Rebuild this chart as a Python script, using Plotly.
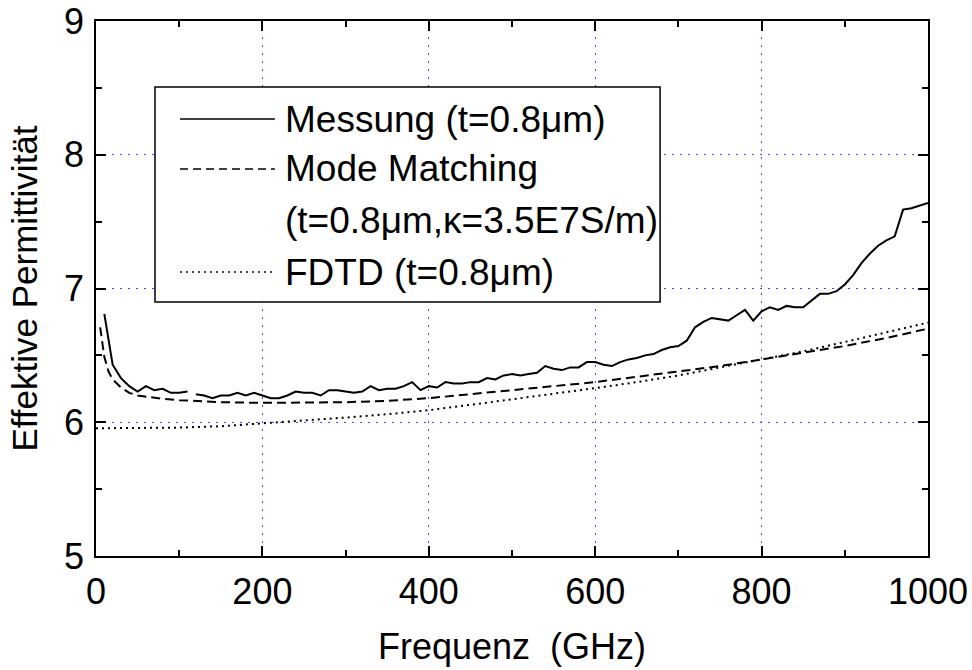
import plotly.graph_objects as go

# ---------------- data ----------------
freq_meas = [10, 20, 30, 40, 50, 60, 70, 80, 90, 100, 110, 115,
             120, 130, 140, 150, 160, 170, 180, 190, 200, 210, 220, 230, 240, 250,
             260, 270, 280, 290, 300, 310, 320, 330, 340, 350, 360, 370, 380, 390,
             400, 410, 420, 430, 440, 450, 460, 470, 480, 490, 500, 510, 520, 530,
             540, 550, 560, 570, 580, 590, 600, 610, 620, 630, 640, 650, 660, 670,
             680, 690, 700, 710, 720, 730, 740, 750, 760, 770, 780, 790, 800, 810,
             820, 830, 840, 850, 860, 870, 880, 890, 900, 910, 920, 930, 940, 950,
             960, 970, 980, 990, 1000]
eps_meas = [6.81, 6.43, 6.33, 6.27, 6.23, 6.27, 6.24, 6.25, 6.22, 6.22, 6.23, None,
            6.21, 6.20, 6.18, 6.20, 6.20, 6.22, 6.20, 6.22, 6.20, 6.18, 6.18, 6.20, 6.23, 6.22,
            6.22, 6.20, 6.24, 6.24, 6.23, 6.22, 6.23, 6.27, 6.24, 6.25, 6.25, 6.27, 6.30, 6.24,
            6.27, 6.26, 6.30, 6.29, 6.29, 6.30, 6.30, 6.33, 6.32, 6.35, 6.36, 6.35, 6.36, 6.37,
            6.42, 6.40, 6.39, 6.41, 6.41, 6.45, 6.45, 6.43, 6.42, 6.45, 6.47, 6.48, 6.50, 6.51,
            6.54, 6.56, 6.57, 6.61, 6.71, 6.75, 6.78, 6.77, 6.76, 6.80, 6.84, 6.76, 6.83, 6.86,
            6.84, 6.87, 6.86, 6.86, 6.91, 6.96, 6.96, 6.98, 7.03, 7.10, 7.19, 7.26, 7.32, 7.36,
            7.39, 7.59, 7.60, 7.62, 7.64]

freq_mm = [5, 10, 15, 20, 30, 40, 50, 60, 80, 100, 150, 200, 250, 300, 350, 400,
           450, 500, 550, 600, 650, 700, 750, 800, 850, 900, 950, 1000]
eps_mm = [6.71, 6.49, 6.38, 6.32, 6.26, 6.22, 6.20, 6.19, 6.175, 6.165, 6.15, 6.145,
          6.145, 6.15, 6.16, 6.18, 6.21, 6.24, 6.27, 6.30, 6.34, 6.38, 6.42, 6.47,
          6.52, 6.57, 6.63, 6.70]

freq_fdtd = [0, 50, 100, 150, 200, 250, 300, 350, 400, 450, 500, 550, 600, 650, 700,
             750, 800, 850, 900, 950, 1000]
eps_fdtd = [5.955, 5.955, 5.96, 5.97, 5.99, 6.01, 6.035, 6.06, 6.09, 6.13, 6.17, 6.21,
            6.255, 6.30, 6.35, 6.41, 6.47, 6.53, 6.60, 6.67, 6.745]

legend_labels = ["Messung (t=0.8\u03bcm)",
                 "Mode Matching",
                 "(t=0.8\u03bcm,\u03ba=3.5E7S/m)",
                 "FDTD (t=0.8\u03bcm)"]
x_ticks = [0, 200, 400, 600, 800, 1000]
y_ticks = [5, 6, 7, 8, 9]

FONT = "Arial, Liberation Sans, Helvetica, sans-serif"
GRID = "rgb(70,70,255)"

fig = go.Figure()
fig.add_trace(go.Scatter(x=freq_meas, y=eps_meas, mode="lines", connectgaps=False,
                         line=dict(color="black", width=2), name=legend_labels[0]))
fig.add_trace(go.Scatter(x=freq_mm, y=eps_mm, mode="lines",
                         line=dict(color="black", width=2, dash="9px,5px"), name="Mode Matching"))
fig.add_trace(go.Scatter(x=freq_fdtd, y=eps_fdtd, mode="lines",
                         line=dict(color="black", width=2, dash="2px,4px"), name=legend_labels[3]))

axis_common = dict(
    showline=True, linecolor="black", linewidth=1.5, mirror="ticks",
    ticks="inside", ticklen=10, tickwidth=1.5, tickcolor="black",
    showgrid=True, gridcolor=GRID, gridwidth=1.2, griddash="1.5px,6.5px",
    zeroline=False, automargin=False, ticklabeloverflow="allow",
    tickfont=dict(family=FONT, size=36, color="black"),
)

fig.update_xaxes(range=[0, 1000], tickvals=x_ticks, ticktext=[str(v) for v in x_ticks],
                 ticklabelstandoff=3,
                 minor=dict(dtick=100, tick0=0, ticks="inside", ticklen=6, tickwidth=1.5,
                            tickcolor="black", showgrid=False),
                 title=dict(text="Frequenz\u00a0 (GHz)", font=dict(family=FONT, size=36, color="black"),
                            standoff=23),
                 **axis_common)
fig.update_yaxes(range=[5, 9], tickvals=y_ticks, ticktext=[str(v) for v in y_ticks],
                 ticklabelstandoff=3,
                 minor=dict(dtick=0.5, tick0=5, ticks="inside", ticklen=6, tickwidth=1.5,
                            tickcolor="black", showgrid=False),
                 title=dict(text="Effektive Permittivit\u00e4t", font=dict(family=FONT, size=35, color="black"),
                            standoff=16),
                 **axis_common)

# ---- manual legend box (paper coordinates) ----
box = dict(x0=0.0709, x1=0.678, y0=0.4748, y1=0.8766)
fig.add_shape(type="rect", xref="paper", yref="paper", layer="above",
              line=dict(color="black", width=1.5), fillcolor="white", **box)
sample_x0, sample_x1, text_x = 0.101, 0.215, 0.2248
rows_y = [0.8168, 0.7234, 0.6262, 0.5308]
dashes = ["solid", "8px,5px", None, "2px,4px"]
for y, d in zip(rows_y, dashes):
    if d is not None:
        fig.add_shape(type="line", xref="paper", yref="paper", layer="above",
                      x0=sample_x0, x1=sample_x1, y0=y, y1=y,
                      line=dict(color="black", width=1.5, dash=d))
for y, txt in zip(rows_y, legend_labels):
    fig.add_annotation(xref="paper", yref="paper", x=text_x, y=y, text=txt,
                       showarrow=False, xanchor="left", yanchor="middle",
                       font=dict(family=FONT, size=37, color="black"))

fig.update_layout(
    width=972, height=670,
    margin=dict(l=96, r=44, t=21, b=114, autoexpand=False),
    paper_bgcolor="white", plot_bgcolor="white",
    showlegend=False,
    font=dict(family=FONT, color="black"),
)

# remove the browser's default 8px body margin so the figure fills the 972x670 window exactly
fig.write_html("out.html", config={"displayModeBar": False},
               post_script="document.body.style.margin='0';")
